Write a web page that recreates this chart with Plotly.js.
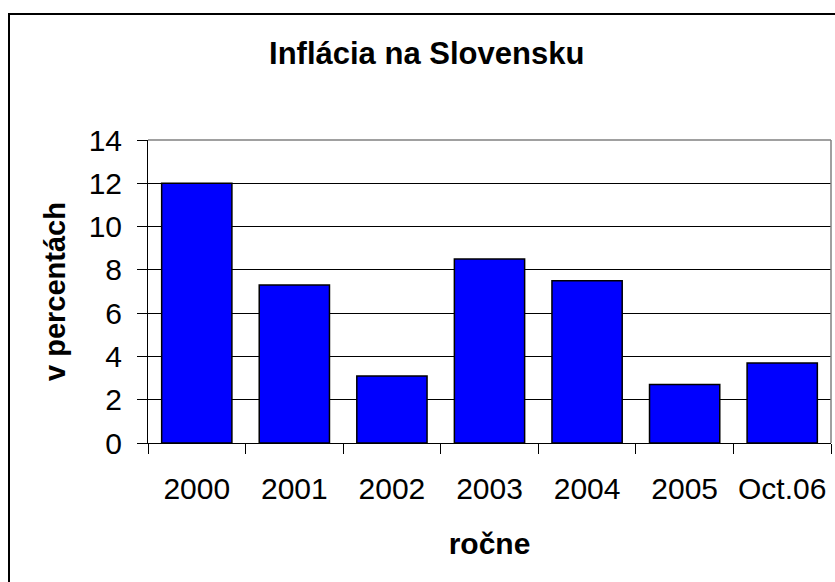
<!DOCTYPE html>
<html>
<head>
<meta charset="utf-8">
<script src="https://cdn.plot.ly/plotly-3.0.1.min.js"></script>
<style>
  html, body { margin: 0; padding: 0; background: #fff; overflow: hidden; }
  #wrap { position: relative; width: 835px; height: 582px; }
  #chart { width: 835px; height: 582px; }
  #frame { position: absolute; left: 8px; top: 13px; width: 900px; height: 700px;
           border: 2px solid #000; pointer-events: none; }
</style>
</head>
<body>
<div id="wrap">
  <div id="chart"></div>
  <div id="frame"></div>
</div>
<script>
const categories = ["2000", "2001", "2002", "2003", "2004", "2005", "Oct.06"];
const inflation = [12.0, 7.3, 3.1, 8.5, 7.5, 2.7, 3.7];
const yTicks = [0, 2, 4, 6, 8, 10, 12, 14];
const chartTitle = "Inflácia na Slovensku";
const xTitle = "ročne";
const yTitle = "v percentách";

const font = "Arial, 'Liberation Sans', sans-serif";

const trace = {
  type: "bar",
  x: categories,
  y: inflation,
  marker: { color: "#0000FF", line: { color: "#000000", width: 1.5 } },
  hoverinfo: "x+y"
};

const layout = {
  width: 835,
  height: 582,
  margin: { l: 148, r: 4, t: 140, b: 139 },
  paper_bgcolor: "rgba(0,0,0,0)",
  plot_bgcolor: "#ffffff",
  showlegend: false,
  bargap: 0.28,
  font: { family: font, color: "#000" },
  title: {
    text: "<b>" + chartTitle + "</b>",
    font: { family: font, size: 31, color: "#000" },
    xref: "container", yref: "container",
    x: 0.511, xanchor: "center",
    y: 1 - 53 / 582, yanchor: "middle"
  },
  xaxis: {
    type: "category",
    tickson: "boundaries",
    ticks: "outside",
    ticklen: 10,
    tickcolor: "#000",
    tickwidth: 1,
    showline: true,
    linecolor: "#000",
    linewidth: 1,
    showgrid: false,
    tickfont: { family: font, size: 30, color: "#000" },
    ticklabelstandoff: 19,
    title: { text: "<b>" + xTitle + "</b>", font: { family: font, size: 30, color: "#000" }, standoff: 28 },
    fixedrange: true
  },
  yaxis: {
    range: [0, 14],
    tickvals: yTicks,
    ticktext: yTicks.map(String),
    ticks: "outside",
    ticklen: 10,
    tickcolor: "#000",
    tickwidth: 1,
    showline: true,
    linecolor: "#000",
    linewidth: 1,
    showgrid: true,
    gridcolor: "#000",
    gridwidth: 1,
    zeroline: false,
    tickfont: { family: font, size: 30, color: "#000" },
    ticklabelstandoff: 9,
    title: { text: "<b>" + yTitle + "</b>", font: { family: font, size: 29, color: "#000" }, standoff: 14 },
    fixedrange: true
  },
  shapes: [
    { type: "line", xref: "paper", yref: "paper", x0: 0, x1: 1, y0: 1, y1: 1,
      line: { color: "#808080", width: 1.5 }, layer: "above" },
    { type: "line", xref: "paper", yref: "paper", x0: 1, x1: 1, y0: 0, y1: 1,
      line: { color: "#808080", width: 1.5 }, layer: "above" }
  ]
};

Plotly.newPlot("chart", [trace], layout, { displayModeBar: false, staticPlot: true });
</script>
</body>
</html>
